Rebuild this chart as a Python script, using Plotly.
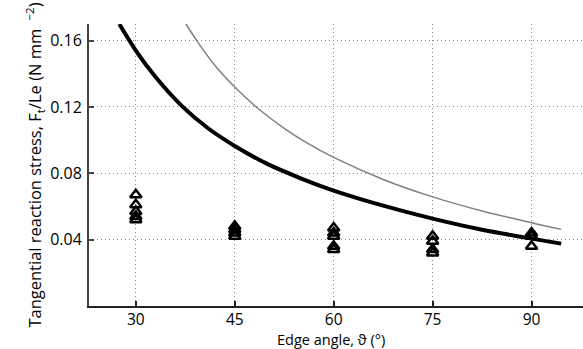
import plotly.graph_objects as go

# Model curves
thick_x = [27.5, 30, 33, 37, 41, 45, 50, 55, 60, 67.5, 75, 82.5, 90, 94.5]
thick_y = [0.170, 0.154, 0.138, 0.1205, 0.107, 0.0965, 0.0855, 0.0770, 0.0696, 0.0605, 0.0527, 0.0460, 0.0406, 0.0376]
gray_x = [37.6, 39.5, 42, 45, 48.4, 52.6, 56, 60, 67.5, 75, 82.5, 90, 94.5]
gray_y = [0.170, 0.1585, 0.1450, 0.132, 0.1195, 0.1068, 0.0982, 0.0896, 0.0763, 0.0658, 0.0573, 0.0502, 0.0462]

# Measured points
meas_x = [30, 30, 30, 30, 30, 45, 45, 45, 45, 60, 60, 60, 60, 60, 75, 75, 75, 75, 90, 90, 90]
meas_y = [0.067, 0.061, 0.057, 0.054, 0.052,
          0.048, 0.046, 0.044, 0.042,
          0.047, 0.044, 0.042, 0.036, 0.034,
          0.042, 0.039, 0.034, 0.032,
          0.044, 0.042, 0.036]

x_ticks = [30, 45, 60, 75, 90]
y_ticks = [0.04, 0.08, 0.12, 0.16]

FONT = "Open Sans"
GRID_DASH = "1px,3px"

fig = go.Figure()
fig.add_trace(go.Scatter(x=gray_x, y=gray_y, mode="lines",
                         line=dict(color="#808080", width=1.5, shape="spline", smoothing=1), showlegend=False))
fig.add_trace(go.Scatter(x=thick_x, y=thick_y, mode="lines",
                         line=dict(color="#000000", width=4, shape="spline", smoothing=0.8), showlegend=False))
fig.add_trace(go.Scatter(x=meas_x, y=meas_y, mode="markers",
                         marker=dict(symbol="triangle-up-open", size=10, color="#000000",
                                     line=dict(width=2.5, color="#000000")),
                         showlegend=False))

fig.update_layout(
    width=583, height=349,
    margin=dict(l=89, r=0, t=24, b=43),
    paper_bgcolor="white", plot_bgcolor="white",
    font=dict(family=FONT, size=16, color="#000000"),
    xaxis=dict(range=[22.9, 97.8], tickvals=x_ticks, ticktext=[str(v) for v in x_ticks],
               showgrid=True, gridcolor="#8a8a8a", griddash=GRID_DASH, gridwidth=1,
               showline=True, linecolor="#222222", linewidth=1.5,
               ticks="inside", ticklen=5, tickcolor="#222222", tickwidth=1.5,
               tickfont=dict(size=15.5), zeroline=False, automargin=False, ticklabelstandoff=-1),
    yaxis=dict(range=[0, 0.17], tickvals=y_ticks, ticktext=["0.04", "0.08", "0.12", "0.16"],
               showgrid=True, gridcolor="#8a8a8a", griddash=GRID_DASH, gridwidth=1,
               showline=True, linecolor="#444444", linewidth=2,
               ticks="inside", ticklen=5, tickcolor="#444444", tickwidth=1.5,
               tickfont=dict(size=16), zeroline=False, ticklabelstandoff=2, automargin=False,
               title=dict(text="Tangential reaction stress, F<sub>t</sub>/Le (N mm\u2002<sup>\u22122</sup>)",
                          standoff=4, font=dict(size=16.5))),
    annotations=[dict(text="Edge angle, \u03d1 (\u00b0)", xref="paper", yref="paper",
                      x=0.49, y=-0.118, xanchor="center", yanchor="middle", borderpad=0,
                      showarrow=False, font=dict(size=14.5))],
)

fig.write_html("out.html")
